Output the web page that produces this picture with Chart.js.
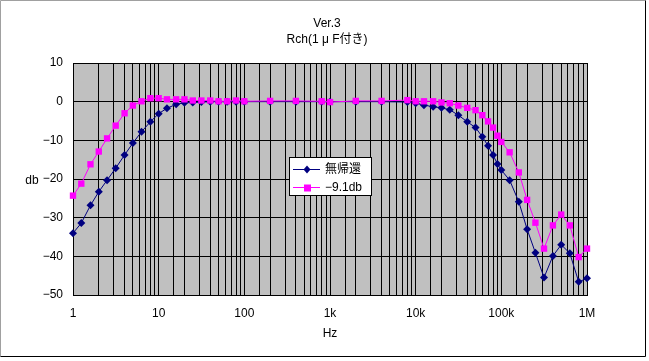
<!DOCTYPE html>
<html>
<head>
<meta charset="utf-8">
<script src="https://cdn.jsdelivr.net/npm/chart.js@4/dist/chart.umd.min.js"></script>
<style>
  html, body { margin: 0; padding: 0; background: #fff; }
  #wrap { width: 649px; height: 361px; }
</style>
</head>
<body>
<div id="wrap"><canvas id="myChart" width="649" height="361"></canvas></div>
<script>
// frequency points (Hz)
const freqs = [1, 1.25, 1.6, 2, 2.5, 3.15, 4, 5, 6.3, 8, 10, 12.5, 16, 20, 25, 31.5, 40, 50, 63, 80, 100,
    200, 400, 800, 1000, 2000, 4000,
    8000, 10000, 12500, 16000, 20000, 25000, 31500,
    40000, 50000, 60000, 70000, 80000, 90000, 100000,
    125000, 160000, 200000, 250000, 315000, 400000, 500000, 630000, 800000, 1000000];

// 無帰還 (dB)
const noFeedback = [-34.0, -31.4, -26.8, -23.3, -20.3, -17.2, -13.8, -10.7, -7.8, -5.2, -3.1, -1.7, -0.7, -0.3, -0.2, -0.1, 0, 0, 0, 0, 0,
    0, 0, 0, 0, 0, 0,
    -0.1, -0.4, -0.9, -1.3, -1.6, -2.1, -3.5,
    -5.2, -6.7, -9.1, -11.4, -13.8, -16.1, -17.7,
    -20.3, -25.9, -33.0, -39.1, -45.5, -39.9, -37.0, -39.2, -46.6, -45.7];

// -9.1db (dB)
const nfb91 = [-24.3, -21.2, -16.2, -12.9, -9.5, -6.2, -3.0, -1.0, 0.1, 0.9, 0.9, 0.6, 0.6, 0.6, 0.3, 0.3, 0.3, 0.1, 0.1, 0.3, 0.1,
    0.2, 0.2, 0.1, -0.1, 0.2, 0.2,
    0.4, 0.1, 0.1, 0.1, -0.2, -0.4, -1.0,
    -1.6, -2.2, -3.5, -5.1, -6.7, -8.8, -10.4,
    -13.1, -18.3, -25.4, -31.3, -38.0, -32.0, -29.2, -32.0, -40.2, -38.0];

const seriesNames = ['無帰還', '\u22129.1db'];
const xTickLabels = { 1: '1', 10: '10', 100: '100', 1000: '1k', 10000: '10k', 100000: '100k', 1000000: '1M' };
const titleLines = ['Ver.3', 'Rch(1 μ F付き)'];

const FONT = "'Liberation Sans', 'Noto Sans CJK JP', sans-serif";
const NAVY = '#000080';
const PINK = '#FF00FF';

const toPoints = (ys) => freqs.map((f, i) => ({ x: f, y: ys[i] }));

const decorations = {
    id: 'decorations',
    beforeDraw: (chart) => {
        const ctx = chart.ctx;
        const a = chart.chartArea;
        ctx.save();
        ctx.fillStyle = '#fff';
        ctx.fillRect(0, 0, chart.width, chart.height);
        // plot area background
        ctx.fillStyle = '#C0C0C0';
        ctx.fillRect(a.left, a.top, a.right - a.left, a.bottom - a.top);
        ctx.restore();
    },
    beforeDatasetsDraw: (chart) => {
        const ctx = chart.ctx;
        const a = chart.chartArea;
        ctx.save();
        // plot border
        ctx.strokeStyle = '#000';
        ctx.lineWidth = 1;
        ctx.strokeRect(Math.round(a.left) + 0.5, Math.round(a.top) + 0.5,
            Math.round(a.right - a.left), Math.round(a.bottom - a.top));
        ctx.restore();
    },
    afterDraw: (chart) => {
        const ctx = chart.ctx;
        ctx.save();
        // outer frame
        ctx.lineWidth = 1;
        ctx.strokeStyle = '#A0A0A0';
        ctx.beginPath();
        ctx.moveTo(0.5, 356.5); ctx.lineTo(0.5, 0.5); ctx.lineTo(645.5, 0.5);
        ctx.stroke();
        ctx.strokeStyle = '#000';
        ctx.beginPath();
        ctx.moveTo(645.5, 0.5); ctx.lineTo(645.5, 356.5); ctx.lineTo(0.5, 356.5);
        ctx.stroke();

        // titles
        ctx.fillStyle = '#000';
        ctx.font = '12px ' + FONT;
        ctx.textAlign = 'center';
        ctx.textBaseline = 'middle';
        ctx.fillText(titleLines[0], 327, 24);
        ctx.fillText(titleLines[1], 327, 40);

        // axis titles
        ctx.fillText('db', 32, 181);
        ctx.fillText('Hz', 330, 334);

        // legend
        const lx = 289, ly = 157, lw = 82, lh = 38;
        ctx.fillStyle = '#fff';
        ctx.fillRect(lx, ly, lw, lh);
        ctx.strokeStyle = '#000';
        ctx.strokeRect(lx + 0.5, ly + 0.5, lw, lh);
        const rows = [
            { name: seriesNames[0], color: NAVY, y: ly + 12, shape: 'diamond' },
            { name: seriesNames[1], color: PINK, y: ly + 30, shape: 'square' }
        ];
        rows.forEach(r => {
            ctx.strokeStyle = r.color;
            ctx.fillStyle = r.color;
            ctx.beginPath();
            ctx.moveTo(lx + 4, r.y + 0.5);
            ctx.lineTo(lx + 31, r.y + 0.5);
            ctx.stroke();
            const cx = lx + 18;
            if (r.shape === 'diamond') {
                ctx.beginPath();
                ctx.moveTo(cx, r.y - 3.5);
                ctx.lineTo(cx + 3.5, r.y + 0.5);
                ctx.lineTo(cx, r.y + 4.5);
                ctx.lineTo(cx - 3.5, r.y + 0.5);
                ctx.closePath();
                ctx.fill();
            } else {
                ctx.fillRect(cx - 3, r.y - 2.5, 7, 7);
            }
            ctx.fillStyle = '#000';
            ctx.font = '12px ' + FONT;
            ctx.textAlign = 'left';
            ctx.textBaseline = 'middle';
            ctx.fillText(r.name, lx + 36, r.y + 1);
        });
        ctx.restore();
    }
};

const data = {
    datasets: [{
        label: seriesNames[0],
        data: toPoints(noFeedback),
        order: 2,
        clip: false,
        borderColor: NAVY,
        backgroundColor: NAVY,
        borderWidth: 1,
        pointStyle: 'rectRot',
        pointRadius: 4,
        pointBorderWidth: 0,
        showLine: true,
        tension: 0
    }, {
        label: seriesNames[1],
        data: toPoints(nfb91),
        order: 1,
        clip: false,
        borderColor: PINK,
        backgroundColor: PINK,
        borderWidth: 1,
        pointStyle: 'rect',
        pointRadius: 4.5,
        pointBorderWidth: 0,
        showLine: true,
        tension: 0
    }]
};

const config = {
    type: 'scatter',
    data,
    options: {
        responsive: false,
        animation: false,
        devicePixelRatio: 1,
        layout: { padding: { left: 0, top: 63, right: 62, bottom: 0 } },
        plugins: {
            legend: { display: false },
            tooltip: { enabled: false }
        },
        scales: {
            x: {
                type: 'logarithmic',
                min: 1,
                max: 1000000,
                afterFit: (s) => { s.height = 66; },
                grid: { color: '#000', lineWidth: 1, drawTicks: false },
                border: { display: false },
                ticks: {
                    autoSkip: false,
                    maxRotation: 0,
                    padding: 11,
                    color: '#000',
                    font: { family: FONT, size: 12 },
                    callback: (v) => xTickLabels[v] !== undefined ? xTickLabels[v] : ''
                }
            },
            y: {
                min: -50,
                max: 10,
                afterFit: (s) => { s.width = 73; },
                grid: { color: '#000', lineWidth: 1, drawTicks: false },
                border: { display: false },
                ticks: {
                    stepSize: 10,
                    padding: 10,
                    color: '#000',
                    font: { family: FONT, size: 12 },
                    callback: (v) => String(v).replace('-', '\u2212')
                }
            }
        }
    },
    plugins: [decorations]
};

new Chart(document.getElementById('myChart'), config);
</script>
</body>
</html>
